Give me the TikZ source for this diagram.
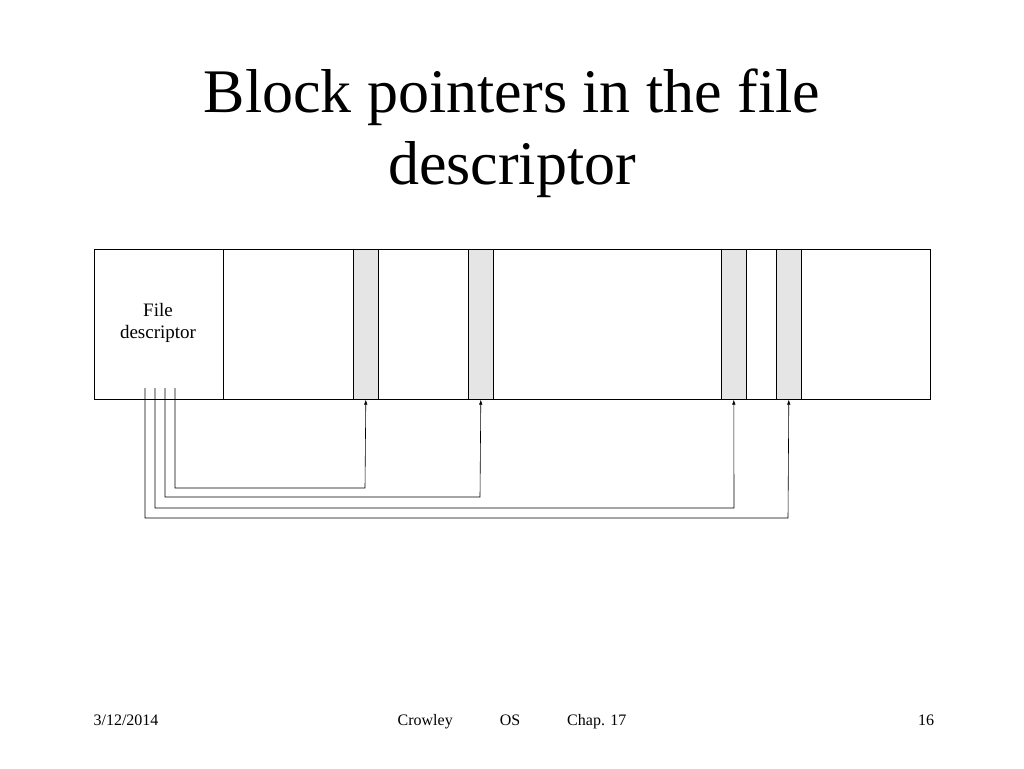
\documentclass[tikz,border=0pt]{standalone}
\usepackage{fontspec}
\setmainfont{Liberation Serif}
\usetikzlibrary{arrows.meta}
\begin{document}
\begin{tikzpicture}[x=1pt,y=-1pt,
  blk/.style={draw,fill=gray!20,line width=0.6pt},
  ptr/.style={line width=0.6pt,-{Latex[length=5pt,width=3.5pt]}},
  ttl/.style={anchor=base,font=\fontsize{62}{70}\selectfont,inner sep=0},
  ft/.style={anchor=base,font=\fontsize{16}{18}\selectfont,inner sep=0}]
\useasboundingbox (0,0) rectangle (1024,768);
\node (t1) at (512,112) [ttl] {Block pointers in the file};
\node (t2) at (512,184) [ttl] {descriptor};
\node (disk) [draw,line width=0.6pt,minimum width=836pt,minimum height=150pt,anchor=north west,inner sep=0] at (94,249) {};
\draw[line width=0.6pt] (223,249) -- (223,399);
\node (fd) at (158,323) [align=center,font=\fontsize{19}{22}\selectfont] {File\\descriptor};
\foreach \n/\x in {a/353,b/468,c/721,d/776}
  \node (\n) [blk,minimum width=25pt,minimum height=150pt,anchor=north west,inner sep=0] at (\x,249) {};
\coordinate (s1) at (175,388); \coordinate (s2) at (165,388);
\coordinate (s3) at (155,388); \coordinate (s4) at (145,388);
\draw[ptr] (s1) |- (365,488) -- (a.south);
\draw[ptr] (s2) |- (480,497) -- (b.south);
\draw[ptr] (s3) |- (734,508) -- (c.south);
\draw[ptr] (s4) |- (788,518) -- (d.south);
\node (f1) at (126,725) [ft] {3/12/2014};
\node (f2) at (512,725) [ft] {Crowley\hspace{47pt}OS\hspace{47pt}Chap. 17};
\node (f3) at (926,725) [ft] {16};
\end{tikzpicture}
\end{document}
